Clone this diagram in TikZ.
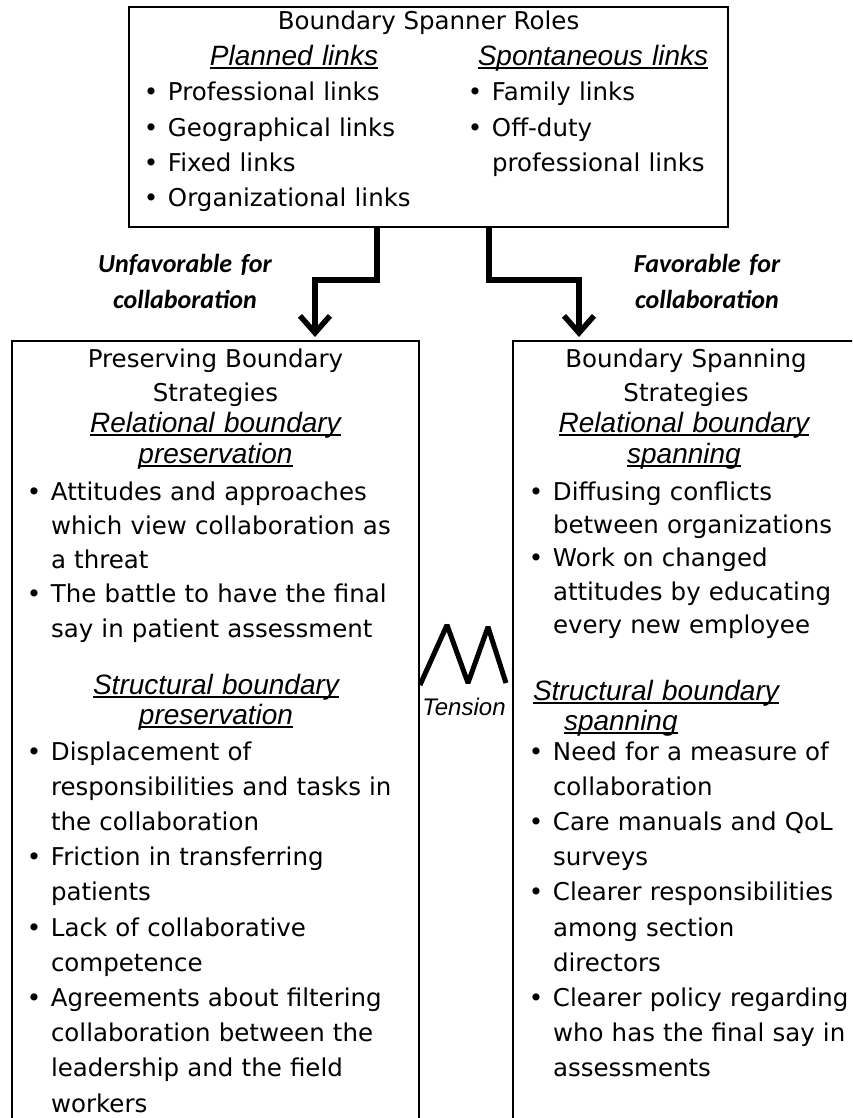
\documentclass[tikz,border=0pt]{standalone}
\usepackage{fontspec}
\setmainfont{DejaVu Sans}
\newfontfamily\headfam{Liberation Sans}
\newfontfamily\labfam{Carlito}
\usetikzlibrary{arrows.meta}
\newcommand\myul[1]{\leavevmode\setbox0\hbox{#1}\rlap{\rule[-3.5pt]{\wd0}{1.4pt}}\box0}
\newcommand\bul{\leavevmode\llap{\makebox[34pt][c]{\textbullet}}}
\begin{document}
\begin{tikzpicture}[x=1pt,y=-1pt,
  box/.style={draw, line width=1.8pt, inner sep=0pt, outer sep=0pt},
  txt/.style={inner sep=0pt, outer sep=0pt, font=\fontsize{24.5pt}{34.3pt}\selectfont},
  lst/.style={txt, text width=420pt, align=left, anchor=base west},
  ctr/.style={txt, text width=400pt, align=center, anchor=base},
  hd/.style={inner sep=0pt, outer sep=0pt, font=\headfam\itshape\fontsize{28pt}{31pt}\selectfont, text width=400pt, align=center, anchor=base},
  lab/.style={inner sep=0pt, outer sep=0pt, font=\labfam\bfseries\itshape\fontsize{26pt}{36pt}\selectfont, text width=260pt, align=center, anchor=base},
  arr/.style={line width=5.5pt, -{Straight Barb[length=17pt,width=30pt]}}
]
\useasboundingbox (0,0) rectangle (852,1118);
\clip (0,0) rectangle (852,1118);

% boxes
\node[box, minimum width=599pt, minimum height=220pt, anchor=north west] (roles) at (129,7) {};
\node[box, minimum width=407pt, minimum height=800pt, anchor=north west] (pres) at (12,341) {};
\node[box, minimum width=380pt, minimum height=800pt, anchor=north west] (span) at (513,341) {};

% top box content
\node[txt, anchor=base] (title) at (428.5,30) {Boundary Spanner Roles};
\node[hd, text width=260pt] (planned) at (294,65.4) {\myul{Planned links}};
\node[hd, text width=260pt] (spont) at (593,65.4) {\myul{Spontaneous links}};
\node[lst, font=\fontsize{24.5pt}{35.4pt}\selectfont] (plist) at (168,100.8)
  {\bul Professional links\\ \bul Geographical links\\ \bul Fixed links\\ \bul Organizational links};
\node[lst, text width=240pt, font=\fontsize{24.5pt}{35.4pt}\selectfont] (slist) at (492,100.8)
  {\bul Family links\\ \bul Off-duty\\ professional links};

% arrow labels
\node[lab] (unfav) at (185,272) {Unfavorable for\\collaboration};
\node[lab] (fav) at (707,272) {Favorable for\\collaboration};

% arrows
\coordinate (ltip) at (315,337);
\coordinate (rtip) at (579,337);
\draw[arr] (roles.south -| 377,0) -- (377,280) -- (315,280) -- (ltip);
\draw[arr] (roles.south -| 489,0) -- (489,280) -- (579,280) -- (rtip);

% left box content
\node[ctr, font=\fontsize{24.5pt}{34pt}\selectfont] (presh) at (215.5,367) {Preserving Boundary\\Strategies};
\node[hd] (relp) at (215.5,432) {\myul{Relational boundary}\\\myul{preservation}};
\node[lst, font=\fontsize{24.5pt}{34.25pt}\selectfont] (pl1) at (51,500)
  {\bul Attitudes and approaches\\ which view collaboration as\\ a threat\\ \bul The battle to have the final\\ say in patient assessment};
\node[hd, font=\headfam\itshape\fontsize{28pt}{30pt}\selectfont] (strp) at (216,694) {\myul{Structural boundary}\\\myul{preservation}};
\node[lst, font=\fontsize{24.5pt}{35.2pt}\selectfont] (pl2) at (51,760)
  {\bul Displacement of\\ responsibilities and tasks in\\ the collaboration\\ \bul Friction in transferring\\ patients\\ \bul Lack of collaborative\\ competence\\ \bul Agreements about filtering\\ collaboration between the\\ leadership and the field\\ workers};

% right box content
\node[ctr, font=\fontsize{24.5pt}{34pt}\selectfont] (spanh) at (686,367) {Boundary Spanning\\Strategies};
\node[hd] (rels) at (684,432) {\myul{Relational boundary}\\\myul{spanning}};
\node[lst, text width=320pt, font=\fontsize{24.5pt}{33.4pt}\selectfont] (sl1) at (553,500)
  {\bul Diffusing conflicts\\ between organizations\\ \bul Work on changed\\ attitudes by educating\\ every new employee};
\node[hd, text width=320pt, align=left, anchor=base west, font=\headfam\itshape\fontsize{28pt}{30pt}\selectfont] (strs) at (533,700)
  {\myul{Structural boundary}\\\hspace*{31pt}\myul{spanning}};
\node[lst, text width=320pt, font=\fontsize{24.5pt}{35.2pt}\selectfont] (sl2) at (553,760)
  {\bul Need for a measure of\\ collaboration\\ \bul Care manuals and QoL\\ surveys\\ \bul Clearer responsibilities\\ among section\\ directors\\ \bul Clearer policy regarding\\ who has the final say in\\ assessments};

% tension
\draw[line width=5pt, line join=bevel] (420,685) -- (447,625) -- (468,683) -- (488,627) -- (506,683);
\node[inner sep=0pt, anchor=base, font=\headfam\itshape\fontsize{24pt}{28pt}\selectfont] (tension) at (464,715) {Tension};
\end{tikzpicture}
\end{document}
